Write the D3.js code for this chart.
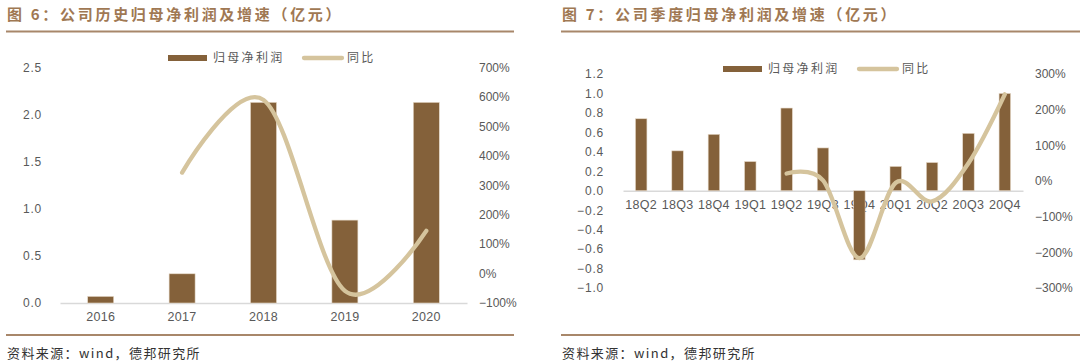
<!DOCTYPE html>
<html>
<head>
<meta charset="utf-8">
<script src="https://cdn.jsdelivr.net/npm/d3@7"></script>
<style>
  body { margin: 0; background: #fff; }
  text { font-family: "Noto Sans CJK SC", "Liberation Sans", sans-serif; }
</style>
</head>
<body>
<script>
// annual data (亿元, growth as fraction)
var years = ["2016", "2017", "2018", "2019", "2020"];
var annualProfit = [0.07, 0.31, 2.13, 0.88, 2.13];
var annualYoY = [null, 3.43, 5.90, -0.59, 1.45];
var annualLeftTicks = [0, 0.5, 1.0, 1.5, 2.0, 2.5];
var annualRightTicks = [-1, 0, 1, 2, 3, 4, 5, 6, 7];

// quarterly data
var quarters = ["18Q2", "18Q3", "18Q4", "19Q1", "19Q2", "19Q3", "19Q4", "20Q1", "20Q2", "20Q3", "20Q4"];
var quarterProfit = [0.74, 0.41, 0.58, 0.30, 0.85, 0.44, -0.71, 0.25, 0.29, 0.59, 1.00];
var quarterYoY = [null, null, null, null, 0.21, 0.02, -2.16, -0.05, -0.57, 0.50, 2.43];
var quarterLeftTicks = [-1.0, -0.8, -0.6, -0.4, -0.2, 0, 0.2, 0.4, 0.6, 0.8, 1.0, 1.2];
var quarterRightTicks = [-3, -2, -1, 0, 1, 2, 3];

var barColor = "#84613a",
    lineColor = "#d5c49d",
    titleColor = "#a07853",
    ruleColor = "#a8876a",
    labelColor = "#595959";

var svg = d3.select("body").append("svg")
  .attr("width", 1080)
  .attr("height", 364);

function panel(cfg) {
  var g = svg.append("g");

  // title + rules
  g.append("text")
    .attr("x", cfg.left + 1).attr("y", 20)
    .attr("fill", titleColor)
    .attr("font-size", 15).attr("font-weight", 700)
    .attr("letter-spacing", 2.7)
    .text(cfg.title);
  g.append("line")
    .attr("x1", cfg.left).attr("x2", cfg.right)
    .attr("y1", 31.5).attr("y2", 31.5)
    .attr("stroke", ruleColor).attr("stroke-width", 2);
  g.append("line")
    .attr("x1", cfg.left).attr("x2", cfg.right)
    .attr("y1", 335).attr("y2", 335)
    .attr("stroke", ruleColor).attr("stroke-width", 2);
  g.append("text")
    .attr("x", cfg.left + 1).attr("y", 358)
    .attr("fill", "#333")
    .attr("font-size", 13)
    .attr("letter-spacing", 1.4)
    .text("资料来源：wind，德邦研究所");

  var x = d3.scaleBand()
    .domain(cfg.cats)
    .range(cfg.xRange);
  var y = d3.scaleLinear()
    .domain(cfg.yDomain)
    .range(cfg.yRange);
  var y2 = d3.scaleLinear()
    .domain(cfg.y2Domain)
    .range(cfg.yRange);

  // left axis
  var la = g.append("g")
    .attr("transform", "translate(" + cfg.xRange[0] + ",0)")
    .call(d3.axisLeft(y).tickValues(cfg.leftTicks).tickSize(0).tickPadding(cfg.leftPad)
      .tickFormat(d3.format(".1f")));
  // right axis
  var ra = g.append("g")
    .attr("transform", "translate(" + cfg.xRange[1] + ",0)")
    .call(d3.axisRight(y2).tickValues(cfg.rightTicks).tickSize(0).tickPadding(12)
      .tickFormat(d3.format(".0%")));
  [la, ra].forEach(function(a) {
    a.select(".domain").remove();
    a.selectAll("text")
      .attr("fill", labelColor)
      .attr("font-size", 12)
      .style("font-family", "'Liberation Sans', sans-serif");
  });
  la.selectAll("text").attr("letter-spacing", 0.8);

  // zero line + category labels (bars go on top of them)
  var xa = g.append("g")
    .attr("transform", "translate(0," + y(0) + ")")
    .call(d3.axisBottom(x).tickSize(0).tickPadding(9));
  xa.select(".domain").attr("stroke", "#d9d9d9").attr("stroke-width", 1.5);
  xa.selectAll("text")
    .attr("fill", labelColor)
    .attr("font-size", 12.5)
    .attr("letter-spacing", 0.3)
    .style("font-family", "'Liberation Sans', sans-serif");

  // bars
  var bw = cfg.barWidth;
  g.selectAll(".bar")
    .data(cfg.bars)
    .enter().append("rect")
    .attr("class", "bar")
    .attr("x", function(d, i) { return x(cfg.cats[i]) + x.bandwidth() / 2 - bw / 2; })
    .attr("width", bw)
    .attr("y", function(d) { return y(Math.max(0, d)); })
    .attr("height", function(d) { return Math.abs(y(d) - y(0)); })
    .attr("fill", barColor)
    .attr("stroke", "#e6d9c8")
    .attr("stroke-width", 0.6);

  // yoy line
  var pts = cfg.yoy.map(function(v, i) { return [cfg.cats[i], v]; })
    .filter(function(p) { return p[1] !== null; });
  g.append("path")
    .datum(pts)
    .attr("fill", "none")
    .attr("stroke", lineColor)
    .attr("stroke-width", 4.3)
    .attr("stroke-linecap", "round")
    .attr("d", d3.line()
      .curve(d3.curveCardinal.tension(0))
      .x(function(p) { return x(p[0]) + x.bandwidth() / 2; })
      .y(function(p) { return y2(p[1]); }));

  // legend
  var lg = g.append("g").attr("transform", "translate(" + cfg.legend[0] + "," + cfg.legend[1] + ")");
  lg.append("rect").attr("x", 0).attr("y", -3).attr("width", 39).attr("height", 6).attr("fill", barColor);
  lg.append("text").attr("x", 45).attr("y", 0).attr("dy", "0.35em")
    .attr("fill", labelColor).attr("font-size", 12).attr("letter-spacing", 2.3)
    .text("归母净利润");
  lg.append("line").attr("x1", 136).attr("x2", 174).attr("y1", 0).attr("y2", 0)
    .attr("stroke", lineColor).attr("stroke-width", 4.3).attr("stroke-linecap", "round");
  lg.append("text").attr("x", 179).attr("y", 0).attr("dy", "0.35em")
    .attr("fill", labelColor).attr("font-size", 12).attr("letter-spacing", 2.3)
    .text("同比");
}

panel({
  title: "图 6：公司历史归母净利润及增速（亿元）",
  left: 6, right: 514,
  cats: years, bars: annualProfit, yoy: annualYoY,
  xRange: [60, 467],
  yDomain: [0, 2.5], y2Domain: [-1, 7], yRange: [303, 67.5],
  leftTicks: annualLeftTicks, rightTicks: annualRightTicks,
  leftPad: 18, barWidth: 26,
  legend: [168, 58]
});

panel({
  title: "图 7：公司季度归母净利润及增速（亿元）",
  left: 561, right: 1080,
  cats: quarters, bars: quarterProfit, yoy: quarterYoY,
  xRange: [623, 1023],
  yDomain: [-1, 1.2], y2Domain: [-3, 3], yRange: [288, 74],
  leftTicks: quarterLeftTicks, rightTicks: quarterRightTicks,
  leftPad: 19, barWidth: 11.5,
  legend: [723, 69]
});
</script>
</body>
</html>
